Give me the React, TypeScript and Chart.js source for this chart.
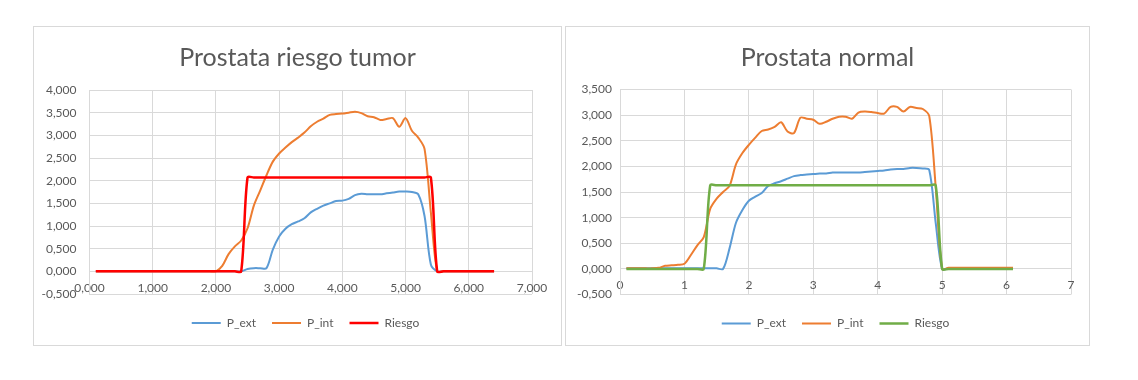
import React, { useEffect, useRef } from "react";
import { Chart, registerables } from "chart.js";

Chart.register(...registerables);

// ---------- Data: Prostata riesgo tumor ----------
const tumorX = [
  0.1, 0.2, 0.3, 0.4, 0.5, 0.6, 0.7, 0.8, 0.9, 1.0,
  1.1, 1.2, 1.3, 1.4, 1.5, 1.6, 1.7, 1.8, 1.9, 2.0,
  2.1, 2.2, 2.3, 2.4, 2.5, 2.6, 2.7, 2.8, 2.9, 3.0,
  3.1, 3.2, 3.3, 3.4, 3.5, 3.6, 3.7, 3.8, 3.9, 4.0,
  4.1, 4.2, 4.3, 4.4, 4.5, 4.6, 4.7, 4.8, 4.9, 5.0,
  5.1, 5.2, 5.3, 5.4, 5.5, 5.6, 5.7, 5.8, 5.9, 6.0,
  6.1, 6.2, 6.3, 6.4,
];
const tumorExt = [
  0, 0, 0, 0, 0, 0, 0, 0, 0, 0,
  0, 0, 0, 0, 0, 0, 0, 0, 0, 0,
  0, 0, 0, 0, 0.05, 0.07, 0.07, 0.07, 0.48, 0.77,
  0.94, 1.04, 1.1, 1.17, 1.3, 1.38, 1.45, 1.5, 1.55, 1.56,
  1.6, 1.68, 1.71, 1.7, 1.7, 1.7, 1.72, 1.74, 1.76, 1.76,
  1.75, 1.7, 1.22, 0.15, 0, 0, 0, 0, 0, 0,
  0, 0, 0, 0,
];
const tumorInt = [
  0, 0, 0, 0, 0, 0, 0, 0, 0, 0,
  0, 0, 0, 0, 0, 0, 0, 0, 0, 0,
  0.12, 0.38, 0.55, 0.68, 0.95, 1.45, 1.78, 2.12, 2.42, 2.6,
  2.73, 2.85, 2.95, 3.06, 3.2, 3.3, 3.37, 3.45, 3.47, 3.48,
  3.5, 3.52, 3.49, 3.42, 3.4, 3.34, 3.36, 3.38, 3.19, 3.38,
  3.1, 2.95, 2.7, 1.3, 0, 0, 0, 0, 0, 0,
  0, 0, 0, 0,
];
const tumorRiesgo = [
  0, 0, 0, 0, 0, 0, 0, 0, 0, 0,
  0, 0, 0, 0, 0, 0, 0, 0, 0, 0,
  0, 0, 0, 0, 2.07, 2.07, 2.07, 2.07, 2.07, 2.07,
  2.07, 2.07, 2.07, 2.07, 2.07, 2.07, 2.07, 2.07, 2.07, 2.07,
  2.07, 2.07, 2.07, 2.07, 2.07, 2.07, 2.07, 2.07, 2.07, 2.07,
  2.07, 2.07, 2.07, 2.07, 0, 0, 0, 0, 0, 0,
  0, 0, 0, 0,
];

// ---------- Data: Prostata normal ----------
const normalX = [
  0.1, 0.2, 0.3, 0.4, 0.5, 0.6, 0.7, 0.8, 0.9, 1.0,
  1.1, 1.2, 1.3, 1.4, 1.5, 1.6, 1.7, 1.8, 1.9, 2.0,
  2.1, 2.2, 2.3, 2.4, 2.5, 2.6, 2.7, 2.8, 2.9, 3.0,
  3.1, 3.2, 3.3, 3.4, 3.5, 3.6, 3.7, 3.8, 3.9, 4.0,
  4.1, 4.2, 4.3, 4.4, 4.5, 4.6, 4.7, 4.8, 4.9, 5.0,
  5.1, 5.2, 5.3, 5.4, 5.5, 5.6, 5.7, 5.8, 5.9, 6.0,
  6.1,
];
const normalExt = [
  0.01, 0.01, 0.01, 0.01, 0.01, 0.01, 0.01, 0.01, 0.01, 0.01,
  0.01, 0.01, 0.01, 0.01, 0.01, 0.0, 0.4, 0.9, 1.15, 1.33,
  1.41, 1.48, 1.62, 1.67, 1.71, 1.76, 1.81, 1.83, 1.84, 1.85,
  1.86, 1.86, 1.88, 1.88, 1.88, 1.88, 1.88, 1.89, 1.9, 1.91,
  1.92, 1.94, 1.95, 1.95, 1.97, 1.97, 1.96, 1.93, 0.9, 0.0,
  0.01, 0.01, 0.01, 0.01, 0.01, 0.01, 0.01, 0.01, 0.01, 0.01,
  0.01,
];
const normalInt = [
  0.01, 0.01, 0.01, 0.01, 0.01, 0.02, 0.06, 0.07, 0.08, 0.1,
  0.27, 0.46, 0.62, 1.17, 1.37, 1.5, 1.62, 2.04, 2.26, 2.42,
  2.56, 2.69, 2.72, 2.77, 2.86, 2.68, 2.65, 2.95, 2.93, 2.91,
  2.83, 2.87, 2.93, 2.97, 2.97, 2.93, 3.05, 3.07, 3.06, 3.04,
  3.03, 3.16, 3.16, 3.07, 3.16, 3.14, 3.12, 2.98, 1.6, 0.0,
  0.02, 0.02, 0.02, 0.02, 0.02, 0.02, 0.02, 0.02, 0.02, 0.02,
  0.02,
];
const normalRiesgo = [
  0, 0, 0, 0, 0, 0, 0, 0, 0, 0,
  0, 0, 0, 1.63, 1.63, 1.63, 1.63, 1.63, 1.63, 1.63,
  1.63, 1.63, 1.63, 1.63, 1.63, 1.63, 1.63, 1.63, 1.63, 1.63,
  1.63, 1.63, 1.63, 1.63, 1.63, 1.63, 1.63, 1.63, 1.63, 1.63,
  1.63, 1.63, 1.63, 1.63, 1.63, 1.63, 1.63, 1.63, 1.63, 0,
  0, 0, 0, 0, 0, 0, 0, 0, 0, 0,
  0,
];

const seriesNames = ["P_ext", "P_int", "Riesgo"];

const FONT = "Lato, 'Open Sans', sans-serif";
const TEXT = "#595959";
const GRID = "#D9D9D9";

const fmt3 = (v: number | string) => Number(v).toFixed(3).replace(".", ",");
const fmtInt = (v: number | string) => String(Math.round(Number(v)));

type BoxProps = {
  left: number;
  width: number;
  title: string;
  xs: number[];
  ext: number[];
  int: number[];
  riesgo: number[];
  riesgoColor: string;
  yMax: number;
  xFmt: (v: number | string) => string;
  yAxisWidth: number;
  yTickPad: number;
  xTickPad: number;
  rightPad: number;
  titleGap: number;
  bottomPad: number;
  legendShift: number;
};

function ChartBox(p: BoxProps) {
  const ref = useRef<HTMLCanvasElement>(null);
  const cw = p.width - 2;
  const ch = 318;

  useEffect(() => {
    if (!ref.current) return;
    const pts = (ys: number[]) => p.xs.map((x, i) => ({ x, y: ys[i] }));
    const shiftLegend = {
      id: "shiftLegend",
      afterLayout(chart: any) {
        const l = chart.legend;
        if (l) {
          l.left += p.legendShift;
          l.right += p.legendShift;
        }
      },
    };
    const chart = new Chart(ref.current, {
      type: "line",
      data: {
        datasets: [
          { label: seriesNames[0], data: pts(p.ext), borderColor: "#5B9BD5", backgroundColor: "#5B9BD5", borderWidth: 2, order: 2 },
          { label: seriesNames[1], data: pts(p.int), borderColor: "#ED7D31", backgroundColor: "#ED7D31", borderWidth: 2, order: 1 },
          { label: seriesNames[2], data: pts(p.riesgo), borderColor: p.riesgoColor, backgroundColor: p.riesgoColor, borderWidth: 2.5, order: 0 },
        ],
      },
      plugins: [shiftLegend],
      options: {
        responsive: false,
        animation: false,
        events: [],
        elements: {
          point: { radius: 0, hoverRadius: 0 },
          line: { tension: 0.3, fill: false },
        },
        layout: { padding: { top: 16, bottom: p.bottomPad, left: 0, right: 0 } },
        plugins: {
          title: {
            display: true,
            text: p.title,
            color: TEXT,
            font: { family: FONT, size: 25, weight: "normal" },
            padding: { top: 0, bottom: p.titleGap },
          },
          legend: {
            position: "bottom",
            labels: {
              usePointStyle: true,
              pointStyle: "line",
              pointStyleWidth: 29,
              padding: 16,
              color: TEXT,
              font: { family: FONT, size: 12 },
              sort: (a: any, b: any) => a.datasetIndex - b.datasetIndex,
            },
          },
          tooltip: { enabled: false },
        },
        scales: {
          x: {
            type: "linear",
            position: { y: 0 } as any,
            min: 0,
            max: 7,
            ticks: {
              stepSize: 1,
              autoSkip: false,
              maxRotation: 0,
              padding: p.xTickPad,
              color: TEXT,
              font: { family: FONT, size: 12 },
              callback: (v: any) => p.xFmt(v),
            },
            grid: { color: GRID, drawTicks: false },
            border: { color: GRID },
          },
          y: {
            type: "linear",
            position: "left",
            min: -0.5,
            max: p.yMax,
            ticks: {
              stepSize: 0.5,
              padding: p.yTickPad,
              color: TEXT,
              font: { family: FONT, size: 12 },
              callback: (v: any) => fmt3(v),
            },
            grid: { color: GRID, drawTicks: false },
            border: { color: GRID },
            afterFit: (s: any) => {
              s.width = p.yAxisWidth;
            },
          },
          xB: {
            type: "linear",
            axis: "x",
            position: "bottom",
            grid: { display: false },
            ticks: { display: false },
            border: { display: false },
            afterFit: (s: any) => {
              s.height = 7;
            },
          },
          yR: {
            type: "linear",
            axis: "y",
            position: "right",
            grid: { display: false },
            ticks: { display: false },
            border: { display: false },
            afterFit: (s: any) => {
              s.width = p.rightPad;
            },
          },
        } as any,
      },
    });
    return () => chart.destroy();
  }, []);

  return (
    <div
      style={{
        position: "absolute",
        left: p.left,
        top: 26,
        width: p.width,
        height: 320,
        boxSizing: "border-box",
        border: `1px solid ${GRID}`,
        background: "#fff",
      }}
    >
      <canvas ref={ref} width={cw} height={ch} style={{ display: "block", width: cw, height: ch }} />
    </div>
  );
}

export default function App() {
  return (
    <div style={{ position: "absolute", left: 0, top: 0, width: 1138, height: 380, background: "#fff" }}>
      <ChartBox
        left={33}
        width={529}
        title="Prostata riesgo tumor"
        xs={tumorX}
        ext={tumorExt}
        int={tumorInt}
        riesgo={tumorRiesgo}
        riesgoColor="#FF0000"
        yMax={4}
        xFmt={fmt3}
        yAxisWidth={55.5}
        yTickPad={13}
        xTickPad={10}
        rightPad={29}
        titleGap={17}
        bottomPad={6}
        legendShift={8}
      />
      <ChartBox
        left={565}
        width={525}
        title="Prostata normal"
        xs={normalX}
        ext={normalExt}
        int={normalInt}
        riesgo={normalRiesgo}
        riesgoColor="#70AD47"
        yMax={3.5}
        xFmt={fmtInt}
        yAxisWidth={54}
        yTickPad={8}
        xTickPad={9}
        rightPad={18}
        titleGap={16.5}
        bottomPad={5.5}
        legendShift={8}
      />
    </div>
  );
}
